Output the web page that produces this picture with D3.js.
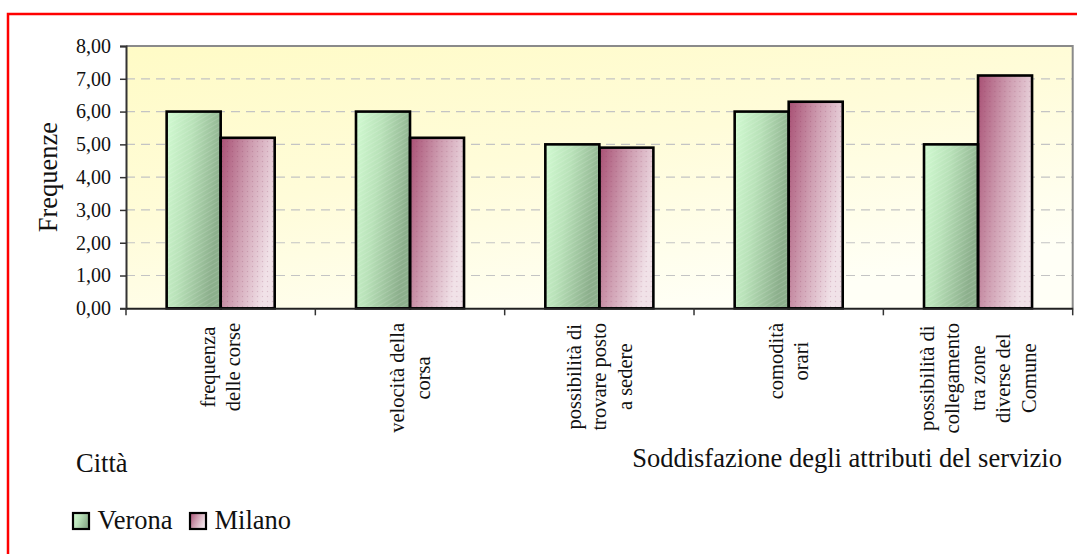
<!DOCTYPE html>
<html>
<head>
<meta charset="utf-8">
<script src="https://cdn.jsdelivr.net/npm/d3@7"></script>
<style>
  html, body { margin: 0; padding: 0; background: #fff; }
  svg { display: block; }
  svg text { font-family: "Liberation Serif", "Times New Roman", Tinos, "DejaVu Serif", serif; }
</style>
</head>
<body>
<svg id="chart" width="1077" height="554"></svg>
<script>
// Satisfaction with service attributes, by city
const categories = [
  "frequenza delle corse",
  "velocità della corsa",
  "possibilità di trovare posto a sedere",
  "comodità orari",
  "possibilità di collegamento tra zone diverse del Comune"
];
const categoryLines = [
  ["frequenza", "delle corse"],
  ["velocità della", "corsa"],
  ["possibilità di", "trovare posto", "a sedere"],
  ["comodità", "orari"],
  ["possibilità di", "collegamento", "tra zone", "diverse del", "Comune"]
];
const seriesNames = ["Verona", "Milano"];
const verona = [6.0, 6.0, 5.0, 6.0, 5.0];
const milano = [5.2, 5.2, 4.9, 6.3, 7.1];
const yTicks = [0, 1, 2, 3, 4, 5, 6, 7, 8];

const svg = d3.select("#chart");
const defs = svg.append("defs");

const plot = { left: 126, top: 46, right: 1072.7, bottom: 308.3 };

// gradients
function linGrad(id, stops, x1, y1, x2, y2) {
  const g = defs.append("linearGradient").attr("id", id)
    .attr("x1", x1).attr("y1", y1).attr("x2", x2).attr("y2", y2);
  stops.forEach(s => g.append("stop").attr("offset", s[0]).attr("stop-color", s[1]));
}
linGrad("bgGrad", [[0, "#fffbc6"], [0.5, "#fffcd9"], [1, "#fffff6"]], 0, 0, 0.6, 1);
linGrad("veronaGrad", [[0, "#d2fbd2"], [0.45, "#b9e2b9"], [1, "#8caf8c"]], 0, 0, 1, 0.35);
linGrad("milanoGrad", [[0, "#a85074"], [0.5, "#cf9fb2"], [1, "#f1e2e8"]], 0, 0, 1, 0.45);

// fine textures over the bar fills
const hatch = defs.append("pattern").attr("id", "hatch")
  .attr("width", 4).attr("height", 4).attr("patternUnits", "userSpaceOnUse")
  .attr("patternTransform", "rotate(60)");
hatch.append("line").attr("x1", 0).attr("y1", 0).attr("x2", 0).attr("y2", 4)
  .attr("stroke", "#ffffff").attr("stroke-width", 1).attr("stroke-opacity", 0.25);
const dots = defs.append("pattern").attr("id", "dots")
  .attr("width", 5).attr("height", 5).attr("patternUnits", "userSpaceOnUse");
dots.append("circle").attr("cx", 1.5).attr("cy", 1.5).attr("r", 0.7)
  .attr("fill", "#7a2048").attr("fill-opacity", 0.18);

// outer red frame
svg.append("path")
  .attr("d", `M8,560 L8,14 L1090,14`)
  .attr("fill", "none").attr("stroke", "#ff0000").attr("stroke-width", 2.5);

const x0 = d3.scaleBand().domain(categories).range([plot.left, plot.right]).padding(0);
const bw = x0.bandwidth();
const x1 = d3.scaleBand().domain(seriesNames).range([bw * 0.2147, bw * 0.7853]).padding(0);
const y = d3.scaleLinear().domain([0, 8]).range([plot.bottom, plot.top]);

// plot background
svg.append("rect")
  .attr("x", plot.left).attr("y", plot.top)
  .attr("width", plot.right - plot.left).attr("height", plot.bottom - plot.top)
  .attr("fill", "url(#bgGrad)");

// gridlines
svg.append("g").selectAll("line")
  .data(yTicks.filter(t => t > 0 && t < 8))
  .join("line")
  .attr("x1", plot.left).attr("x2", plot.right)
  .attr("y1", d => y(d)).attr("y2", d => y(d))
  .attr("stroke", "#c4c4c4").attr("stroke-width", 1.2)
  .attr("stroke-dasharray", "9,6");

// top and right frame of the plot area
svg.append("path")
  .attr("d", `M${plot.left},${plot.top} L${plot.right},${plot.top} L${plot.right},${plot.bottom}`)
  .attr("fill", "none").attr("stroke", "#8a8a8a").attr("stroke-width", 2);

// bars
const fills = { Verona: ["url(#veronaGrad)", "url(#hatch)"], Milano: ["url(#milanoGrad)", "url(#dots)"] };
const rows = categories.map((c, i) => ({ cat: c, vals: [
  { s: "Verona", v: verona[i] }, { s: "Milano", v: milano[i] } ] }));
const groups = svg.append("g").selectAll("g").data(rows).join("g")
  .attr("transform", d => `translate(${x0(d.cat)},0)`);
groups.selectAll("rect.base").data(d => d.vals).join("rect").attr("class", "base")
  .attr("x", d => x1(d.s)).attr("width", x1.bandwidth())
  .attr("y", d => y(d.v)).attr("height", d => y(0) - y(d.v))
  .attr("fill", d => fills[d.s][0]);
groups.selectAll("rect.tex").data(d => d.vals).join("rect").attr("class", "tex")
  .attr("x", d => x1(d.s)).attr("width", x1.bandwidth())
  .attr("y", d => y(d.v)).attr("height", d => y(0) - y(d.v))
  .attr("fill", d => fills[d.s][1])
  .attr("stroke", "#000").attr("stroke-width", 2.6);

// y axis
const yAxis = d3.axisLeft(y).tickValues(yTicks).tickSize(6).tickPadding(9)
  .tickFormat(d => d3.format(".2f")(d).replace(".", ","));
const ya = svg.append("g").attr("transform", `translate(${plot.left},0)`).call(yAxis);
ya.attr("font-family", null).attr("font-size", null);
ya.select(".domain").attr("stroke", "#333").attr("stroke-width", 2);
ya.selectAll(".tick line").attr("stroke", "#333").attr("stroke-width", 1.5);
ya.selectAll(".tick text").attr("font-size", 20).attr("fill", "#111");

// x axis
const xAxis = d3.axisBottom(x0).tickValues([]).tickSize(0);
const xa = svg.append("g").attr("transform", `translate(0,${plot.bottom})`).call(xAxis);
xa.select(".domain").attr("stroke", "#222").attr("stroke-width", 2);
const edges = categories.map(c => x0(c)).concat([plot.right]);
xa.selectAll("line.sep").data(edges).join("line").attr("class", "sep")
  .attr("x1", d => d).attr("x2", d => d).attr("y1", 0).attr("y2", 7)
  .attr("stroke", "#333").attr("stroke-width", 1.5);

// category labels, rotated, multi-line and centred on each band
const lineStep = 25.5;
const labelTop = 323;
categories.forEach((c, i) => {
  const lines = categoryLines[i];
  const cx = x0(c) + bw / 2;
  const g = svg.append("g");
  const texts = lines.map((ln, j) => g.append("text")
    .attr("font-size", 20.5).attr("fill", "#111").attr("text-anchor", "middle")
    .attr("dy", "0.33em").text(ln));
  const maxLen = d3.max(texts, t => t.node().getComputedTextLength());
  const cy = labelTop + maxLen / 2;
  texts.forEach((t, j) => {
    const colX = cx + (j - (lines.length - 1) / 2) * lineStep;
    t.attr("transform", `translate(${colX},${cy}) rotate(-90)`);
  });
});

// axis titles
svg.append("text")
  .attr("transform", `translate(56.5,${(plot.top + plot.bottom) / 2}) rotate(-90)`)
  .attr("text-anchor", "middle").attr("font-size", 26.5).attr("fill", "#111")
  .text("Frequenze");
svg.append("text").attr("x", 1062).attr("y", 467).attr("text-anchor", "end")
  .attr("font-size", 26.5).attr("fill", "#111")
  .text("Soddisfazione degli attributi del servizio");
svg.append("text").attr("x", 76).attr("y", 472).attr("font-size", 26.5).attr("fill", "#111")
  .text("Città");

// legend
const legendX = [73, 190];
const leg = svg.append("g").selectAll("g").data(seriesNames).join("g")
  .attr("transform", (d, i) => `translate(${legendX[i]},513)`);
leg.append("rect").attr("width", 16).attr("height", 16)
  .attr("fill", d => d === "Verona" ? "url(#veronaGrad)" : "url(#milanoGrad)")
  .attr("stroke", "#000").attr("stroke-width", 2.2);
leg.append("text").attr("x", 24.5).attr("y", 15.8).attr("font-size", 26.5).attr("fill", "#111")
  .text(d => d);
</script>
</body>
</html>
